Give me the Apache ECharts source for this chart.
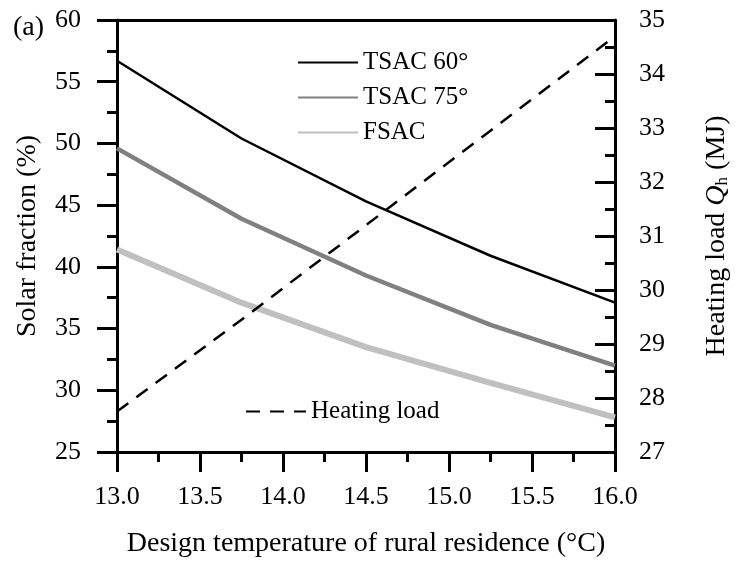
<!DOCTYPE html>
<html>
<head>
<meta charset="utf-8">
<script src="https://cdn.jsdelivr.net/npm/echarts@6/dist/echarts.min.js"></script>
<style>html,body{margin:0;padding:0;background:#fff;}#c{width:739px;height:563px;}</style>
</head>
<body>
<div id="c"></div>
<script>
const temps = [13.0, 13.75, 14.5, 15.25, 16.0];
const tsac60 = [56.7, 50.4, 45.3, 40.9, 37.1];
const tsac75 = [49.6, 43.9, 39.3, 35.3, 32.0];
const fsac = [41.4, 37.1, 33.5, 30.6, 27.8];
const heating = [27.75, 29.45, 31.2, 32.95, 34.7];
const FONT = 'Liberation Serif';

const pair = (ys) => temps.map((t, i) => [t, ys[i]]);
const mkLine = () => ({show: true, onZero: false, lineStyle: {color: '#000', width: 3}});
const mkTick = (inside, len) => ({show: true, inside: inside, length: len, lineStyle: {color: '#000', width: 3}});
const mkMinor = (len) => ({show: true, splitNumber: 2, length: len, lineStyle: {color: '#000', width: 3}});
const lbl = (margin, extra) => Object.assign({show: true, fontFamily: FONT, fontSize: 26, color: '#000', margin: margin}, extra || {});

const chart = echarts.init(document.getElementById('c'), null, {renderer: 'canvas'});
chart.setOption({
  animation: false,
  backgroundColor: '#fff',
  textStyle: {fontFamily: FONT, color: '#000'},
  grid: {left: 117, right: 106, top: 20, bottom: 109, containLabel: false},
  graphic: [{type: 'text', left: 13, top: 14, style: {text: '(a)', font: '28px "Liberation Serif"', fill: '#000'}}],
  legend: [
    {orient: 'vertical', left: 292, top: 45, itemWidth: 60, itemHeight: 14, itemGap: 10,
     itemStyle: {opacity: 0},
     textStyle: {fontFamily: FONT, fontSize: 25, color: '#000'},
     data: ['TSAC 60°', 'TSAC 75°', 'FSAC']},
    {orient: 'vertical', left: 240, top: 394, itemWidth: 60, itemHeight: 14,
     itemStyle: {opacity: 0},
     textStyle: {fontFamily: FONT, fontSize: 25, color: '#000'},
     data: ['Heating load']}
  ],
  xAxis: [{
    type: 'value', min: 13, max: 16, interval: 0.5, position: 'bottom',
    name: 'Design temperature of rural residence (°C)', nameLocation: 'middle', nameGap: 78,
    nameTextStyle: {fontFamily: FONT, fontSize: 28, color: '#000'},
    axisLine: mkLine(),
    axisTick: mkTick(false, 20),
    minorTick: mkMinor(10),
    splitLine: {show: false},
    axisLabel: lbl(32, {formatter: v => v.toFixed(1)})
  }, {
    type: 'value', min: 13, max: 16, interval: 0.25, position: 'top',
    axisLine: mkLine(),
    axisTick: {show: false},
    minorTick: {show: false},
    splitLine: {show: false}, axisLabel: {show: false}
  }],
  yAxis: [{
    type: 'value', min: 25, max: 60, interval: 5, position: 'left',
    name: 'Solar fraction (%)', nameLocation: 'middle', nameGap: 75, nameRotate: 90,
    nameTextStyle: {fontFamily: FONT, fontSize: 28, color: '#000'},
    axisLine: mkLine(),
    axisTick: mkTick(false, 20),
    minorTick: mkMinor(10),
    splitLine: {show: false},
    axisLabel: lbl(36)
  }, {
    type: 'value', min: 27, max: 35, interval: 1, position: 'right',
    name: '{a|Heating load }{q|Q}{s|h}{a| (MJ)}', nameLocation: 'middle', nameGap: 88, nameRotate: 90,
    nameTextStyle: {fontFamily: FONT, fontSize: 28, color: '#000',
      rich: {a: {fontFamily: FONT, fontSize: 28, color: '#000'},
             q: {fontFamily: FONT, fontSize: 28, fontStyle: 'italic', color: '#000'},
             s: {fontFamily: FONT, fontSize: 17, color: '#000', verticalAlign: 'bottom', padding: [10, 0, 0, 0]}}},
    axisLine: mkLine(),
    axisTick: mkTick(true, 20),
    minorTick: mkMinor(10),
    splitLine: {show: false},
    axisLabel: lbl(24)
  }],
  series: [
    {name: 'TSAC 60°', type: 'line', xAxisIndex: 0, yAxisIndex: 0, data: pair(tsac60), symbol: 'none',
     lineStyle: {color: '#000', width: 2.5}, itemStyle: {color: '#000'}},
    {name: 'TSAC 75°', type: 'line', xAxisIndex: 0, yAxisIndex: 0, data: pair(tsac75), symbol: 'none',
     lineStyle: {color: '#808080', width: 4.5}, itemStyle: {color: '#808080'}},
    {name: 'FSAC', type: 'line', xAxisIndex: 0, yAxisIndex: 0, data: pair(fsac), symbol: 'none',
     lineStyle: {color: '#c0c0c0', width: 6}, itemStyle: {color: '#c0c0c0'}},
    {name: 'Heating load', type: 'line', xAxisIndex: 0, yAxisIndex: 1, data: pair(heating), symbol: 'none',
     lineStyle: {color: '#000', width: 2.5, type: [14, 10]}, itemStyle: {color: '#000'}}
  ]
});
</script>
</body>
</html>
